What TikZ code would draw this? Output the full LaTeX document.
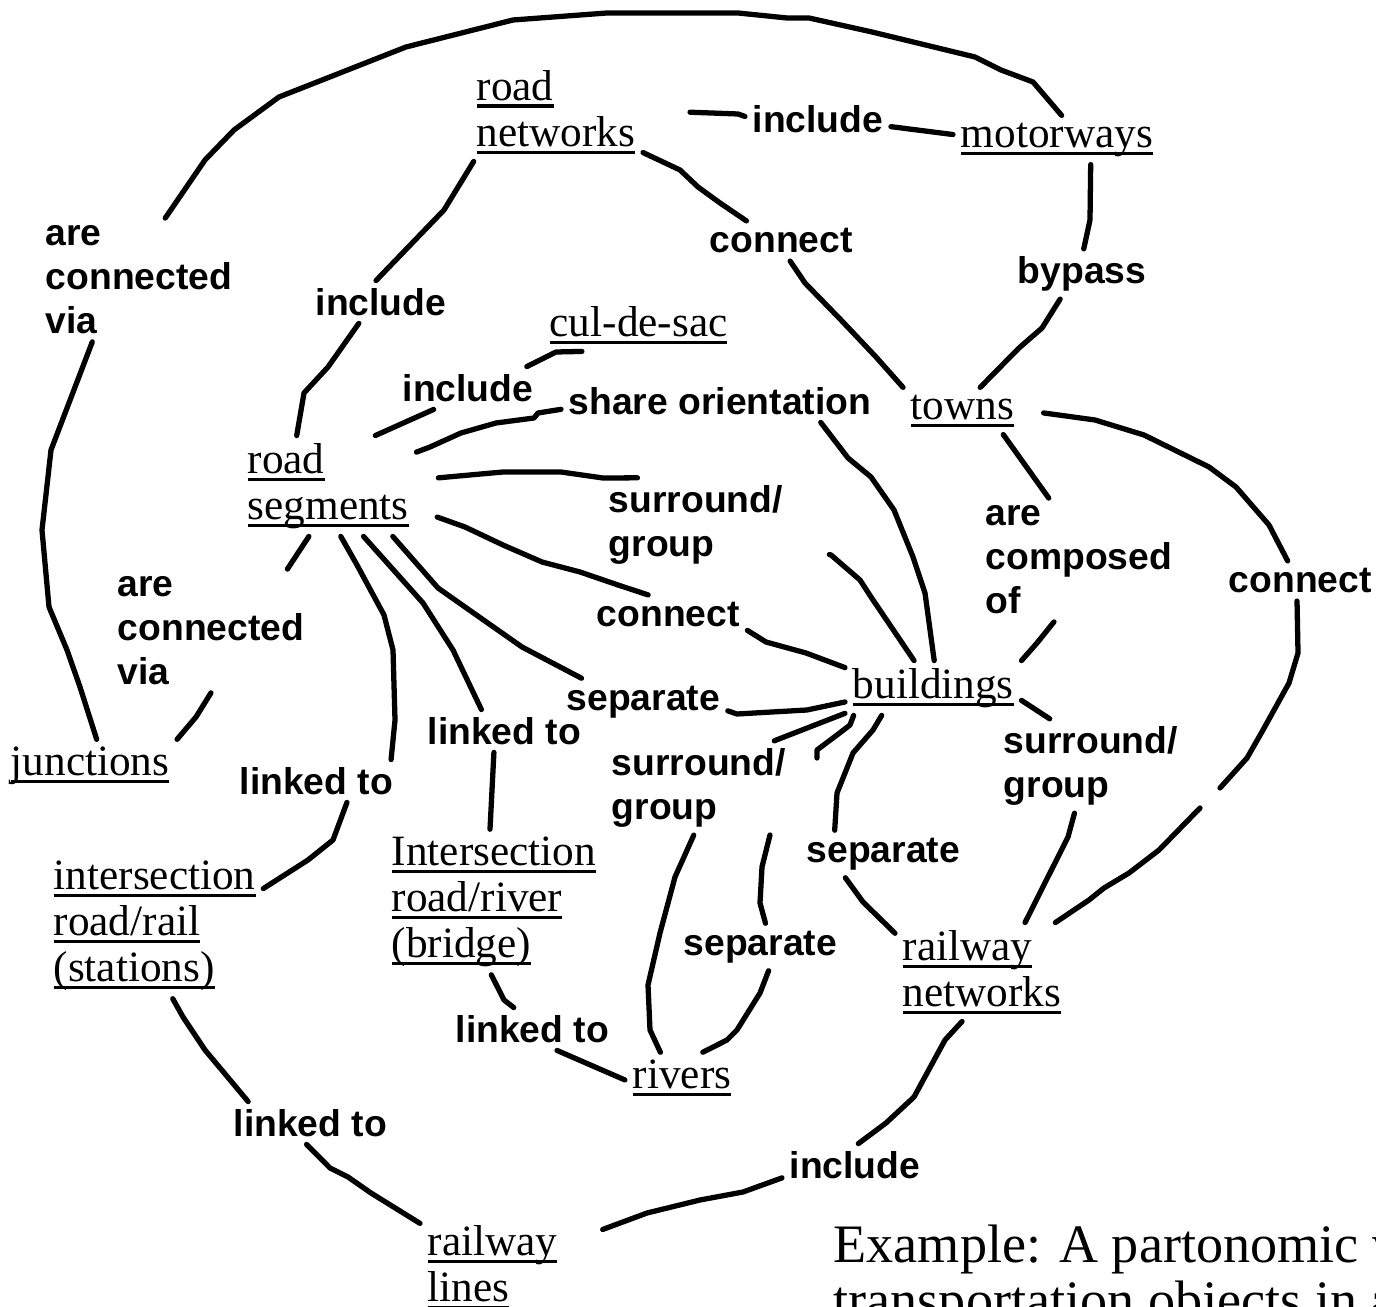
\documentclass[tikz,border=0pt]{standalone}
\usepackage{fontspec}
\setmainfont{Liberation Serif}
\setsansfont{Liberation Sans}
\usepackage{tikz}
\usetikzlibrary{positioning,calc}

% underlined object names
\newcommand{\ulx}[1]{\setbox0\hbox{#1}\rlap{\rule[-2.1pt]{\wd0}{0.9pt}}\box0}

\tikzset{
  thing/.style={font=\fontsize{12.3}{13.1}\selectfont, align=left, anchor=west, inner sep=2pt},
  rel/.style={font=\sffamily\bfseries\fontsize{10.6}{12.5}\selectfont, align=left, anchor=west, inner sep=2pt},
  link/.style={line width=1.5pt, line cap=round, line join=round},
}

\begin{document}
\begin{tikzpicture}[x=0.01cm, y=-0.01cm]
    \useasboundingbox (0,0) rectangle (1376,1307);
    \clip (0,0) rectangle (1376,1307);

    % objects
    \node[thing] (rn)  at (469,112)  {\ulx{road}\\\ulx{networks}};
    \node[thing] (mw)  at (953,140)  {\ulx{motorways}};
    \node[thing] (cds) at (542,325)  {\ulx{cul-de-sac}};
    \node[thing] (tw)  at (903,411)  {\ulx{towns}};
    \node[thing] (rs)  at (240,486)  {\ulx{road}\\\ulx{segments}};
    \node[thing] (jn)  at (3,766)    {\ulx{junctions}};
    \node[thing] (bd)  at (845,688)  {\ulx{buildings}};
    \node[thing] (irr) at (46,926)   {\ulx{intersection}\\\ulx{road/rail}\\\ulx{(stations)}};
    \node[thing] (irv) at (384,902)  {\ulx{Intersection}\\\ulx{road/river}\\\ulx{(bridge)}};
    \node[thing] (rwn) at (895,972)  {\ulx{railway}\\\ulx{networks}};
    \node[thing] (rv)  at (625,1078) {\ulx{rivers}};
    \node[thing] (rwl) at (420,1267) {\ulx{railway}\\\ulx{lines}};

    % relations
    \node[rel] (cva)  at (38,280)   {are\\connected\\via};
    \node[rel] (inca) at (308,302)  {include};
    \node[rel] (incb) at (745,119)  {include};
    \node[rel] (cona) at (702,241)  {connect};
    \node[rel] (byp)  at (1010,274) {bypass};
    \node[rel] (incc) at (395,388)  {include};
    \node[rel] (sho)  at (561,401)  {share orientation};
    \node[rel] (sga)  at (601,525)  {surround/\\group};
    \node[rel] (conb) at (589,615)  {connect};
    \node[rel] (sepa) at (559,702)  {separate};
    \node[rel] (cmp)  at (978,560)  {are\\composed\\of};
    \node[rel] (conc) at (1221,581) {connect};
    \node[rel] (cvb)  at (110,631)  {are\\connected\\via};
    \node[rel] (lka)  at (232,781)  {linked to};
    \node[rel] (lkb)  at (420,731)  {linked to};
    \node[rel] (sgb)  at (604,788)  {surround/\\group};
    \node[rel] (sgc)  at (996,766)  {surround/\\group};
    \node[rel] (sepb) at (799,854)  {separate};
    \node[rel] (sepc) at (676,947)  {separate};
    \node[rel] (lkc)  at (448,1029) {linked to};
    \node[rel] (lkd)  at (226,1123) {linked to};
    \node[rel] (incd) at (782,1165) {include};

    % caption
    \node[font=\fontsize{15.4}{18}\selectfont, anchor=base west, inner sep=0] (cap1) at (833,1262) {Example: A partonomic view};
    \node[font=\fontsize{15.4}{18}\selectfont, anchor=base west, inner sep=0] (cap2) at (833,1318) {transportation objects in a};

    % motorways / junctions
    \draw[link] (cva.67) -- (205,160) -- (234,130) -- (279,97) -- (406,47) -- (513,20) -- (607,13) -- (738,13) -- (787,18) -- (809,18) -- (872,32) -- (975,57) -- (1001,70) -- (1033,82) -- (mw.79);
    \draw[link] (cva.233) -- (51,450) -- (42,530) -- (49,607) -- (67,650) -- (80,687) -- (jn.76);

    % road networks
    \draw[link] (rn.211) -- (444,210) -- (inca.103);
    \draw[link] (inca.224) -- (328,367) -- (304,393) -- (rs.122);
    \draw[link, shorten <=0.47cm] (rn.1) -- (738,114) -- (incb.178);
    \draw[link] (incb.-6) -- (mw.177);
    \draw[link] (rn.-25) -- (680,170) -- (698,187) -- (720,203) -- (cona.150);
    \draw[link] (cona.-66) -- (805,283) -- (841,320) -- (876,357) -- (tw.north west);

    % motorways / towns
    \draw[link] (mw.-36) -- (1090,220) -- (byp.86);
    \draw[link] (byp.-131) -- (1042,328) -- (1019,348) -- (tw.53);
    \draw[link, shorten <=0.22cm] (tw.1) -- (1095,420) -- (1144,435) -- (1209,467) -- (1236,487) -- (1269,525) -- (conc.122);
    \draw[link] (conc.-99) -- (1298,653) -- (1289,683) -- (1263,730) -- (1247,758) -- (1220,788) (1200,808) -- (1159,850) -- (1129,873) -- (1104,888) -- (1089,900) -- (rwn.34);
    \draw[link] (tw.-30) -- (cmp.116);
    \draw[link] (cmp.-112) -- (1037,643) -- (bd.north east);

    % road segments
    \draw[link] (rs.47) -- (incc.-148);
    \draw[link] (incc.20) -- (556,352) -- (cds.-155);
    \draw[link] (rs.21) -- (430,447) -- (461,433) -- (496,423) -- (534,418) -- (538,413) -- (sho.-177);
    \draw[link] (sho.-12) -- (848,458) -- (871,477) -- (894,510) -- (913,557) -- (925,593) -- (bd.88);
    \draw[link, shorten <=0.22cm] (rs.4) -- (503,472) -- (561,472) -- (603,478) -- (sga.141);
    \draw[link, shorten <=0.4cm] (sga.-12) -- (831,555) -- (860,580) -- (871,597) -- (bd.125);
    \draw[link, shorten <=0.22cm] (rs.-15) -- (465,527) -- (503,545) -- (542,562) -- (580,572) -- (618,585) -- (conb.135);
    \draw[link] (conb.-11) -- (766,642) -- (806,653) -- (bd.167);
    \draw[link] (rs.-38) -- (438,588) -- (465,607) -- (522,647) -- (sepa.159);
    \draw[link] (sepa.-6) -- (737,714) -- (807,710) -- (bd.-171);
    \draw[link] (rs.-55) -- (423,603) -- (453,650) -- (lkb.137);
    \draw[link] (lkb.-116) -- (irv.93);
    \draw[link] (rs.-76) -- (357,565) -- (384,615) -- (393,650) -- (395,720) -- (lka.16);
    \draw[link] (lka.-35) -- (333,840) -- (308,860) -- (irr.19);
    \draw[link] (rs.-111) -- (cvb.39);
    \draw[link] (cvb.-90) -- (196,717) -- (jn.north east);

    % buildings
    \draw[link] (bd.-8) -- (sgc.131);
    \draw[link] (sgc.-109) -- (1068,837) -- (rwn.49);
    \draw[link] (bd.-164) -- (sgb.32);
    \draw[link] (sgb.-96) -- (675,877) -- (660,933) -- (648,985) -- (650,1030) -- (rv.130);
    \draw[link] (bd.-161) -- (850,725) -- (837,735) -- (817,750) -- (817,758) (770,835) -- (762,867) -- (760,903) -- (sepc.78);
    \draw[link] (sepc.-71) -- (760,993) -- (737,1030) -- (727,1040) -- (rv.51);
    \draw[link] (bd.-152) -- (873,730) -- (853,753) -- (837,793) -- (sepb.154);
    \draw[link] (sepb.-148) -- (863,902) -- (rwn.156);

    % rivers and railways
    \draw[link] (irv.-92) -- (504,1000) -- (lkc.131);
    \draw[link] (lkc.-41) -- (rv.-178);
    \draw[link] (irr.-76) -- (183,1017) -- (205,1050) -- (lkd.161);
    \draw[link] (lkd.-100) -- (330,1168) -- (348,1177) -- (371,1193) -- (rwl.149);
    \draw[link] (rwn.-112) -- (945,1040) -- (914,1097) -- (886,1123) -- (incd.81);
    \draw[link, shorten >=0.4cm] (incd.-170) -- (743,1192) -- (700,1200) -- (647,1213) -- (rwl.18);
\end{tikzpicture}
\end{document}
